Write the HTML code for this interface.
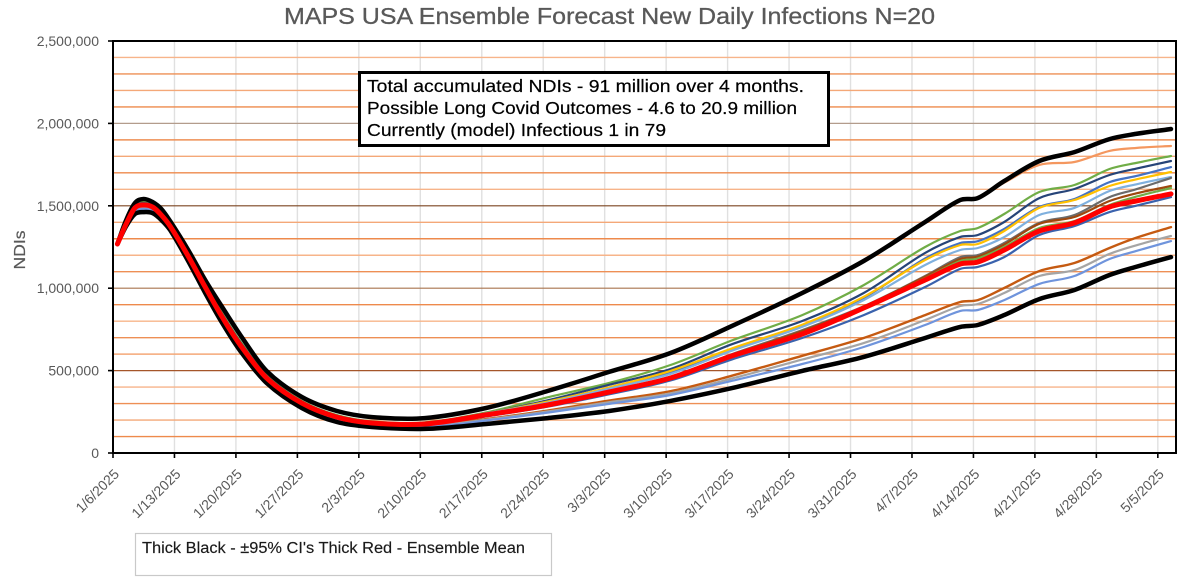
<!DOCTYPE html>
<html lang="en">
<head>
<meta charset="utf-8">
<title>MAPS USA Ensemble Forecast New Daily Infections N=20</title>
<style>
html,body{margin:0;padding:0;background:#fff;width:1200px;height:581px;overflow:hidden}
svg{display:block;font-family:"Liberation Sans",sans-serif}
</style>
</head>
<body>
<svg id="chart" width="1200" height="581" viewBox="0 0 1200 581" xmlns="http://www.w3.org/2000/svg">
  <rect x="0" y="0" width="1200" height="581" fill="#ffffff"/>
  <text x="609.5" y="24" text-anchor="middle" font-size="23" fill="#595959" stroke="#595959" stroke-width="0.3" textLength="651" lengthAdjust="spacingAndGlyphs">MAPS USA Ensemble Forecast New Daily Infections N=20</text>
  <text transform="translate(25,250) rotate(-90)" text-anchor="middle" font-size="16" fill="#595959" stroke="#595959" stroke-width="0.2" textLength="39" lengthAdjust="spacingAndGlyphs">NDIs</text>
  <g id="grid"></g>
  <g id="series"></g>
  <g id="axes"></g>
  <g>
    <rect x="359.5" y="72.5" width="469" height="73" fill="#ffffff" stroke="#000000" stroke-width="3"/>
    <text x="367" y="92" font-size="17.5" fill="#000000" stroke="#000000" stroke-width="0.2" textLength="437" lengthAdjust="spacingAndGlyphs">Total accumulated NDIs - 91 million over 4 months.</text>
    <text x="367" y="114" font-size="17.5" fill="#000000" stroke="#000000" stroke-width="0.2" textLength="430" lengthAdjust="spacingAndGlyphs">Possible Long Covid Outcomes - 4.6 to 20.9 million</text>
    <text x="367" y="136" font-size="17.5" fill="#000000" stroke="#000000" stroke-width="0.2" textLength="299" lengthAdjust="spacingAndGlyphs">Currently (model) Infectious 1 in 79</text>
  </g>
  <g>
    <rect x="135.5" y="533.5" width="416" height="42" fill="#ffffff" stroke="#c9c9c9" stroke-width="1.2"/>
    <text x="142" y="553" font-size="15.5" fill="#1a1a1a" stroke="#1a1a1a" stroke-width="0.15" textLength="383" lengthAdjust="spacingAndGlyphs">Thick Black - ±95% CI's Thick Red - Ensemble Mean</text>
  </g>
</svg>
<script>
// Sampled day offsets from 1/6/2025 and values in thousands of new daily infections
const days = [0,1,2,3,4,5,6,8,10,12,14,17,21,25,29,35,42,49,56,63,70,78,85,92,96,98,101,105,109,113,116,120];
const dateTickLabels = ["1/6/2025","1/13/2025","1/20/2025","1/27/2025","2/3/2025","2/10/2025","2/17/2025","2/24/2025","3/3/2025","3/10/2025","3/17/2025","3/24/2025","3/31/2025","4/7/2025","4/14/2025","4/21/2025","4/28/2025","5/5/2025"];
const yTickValues = [0,500,1000,1500,2000,2500];
const orangeTop = [1268,1412,1512,1536,1518,1476,1404,1232,1046,876,712,494,336,252,215,209,270,372,488,604,768,968,1162,1398,1530,1545,1640,1748,1766,1833,1851,1863];
const greenHigh = [1268,1400,1500,1522,1508,1460,1392,1218,1026,842,678,472,316,230,192,186,246,338,425,534,683,837,1019,1250,1347,1365,1450,1584,1626,1723,1760,1802];
const navy = [1268,1398,1497,1516,1502,1455,1388,1214,1022,836,672,468,312,226,189,183,240,320,414,510,660,801,971,1214,1311,1323,1402,1547,1602,1687,1725,1772];
const blue = [1268,1396,1494,1512,1499,1450,1384,1208,1016,830,665,464,310,224,188,181,240,308,395,490,630,775,941,1180,1274,1285,1360,1493,1541,1644,1680,1735];
const yellow = [1268,1395,1492,1510,1497,1448,1382,1206,1014,828,663,462,309,224,188,180,240,312,398,498,635,778,947,1171,1262,1268,1347,1487,1535,1620,1660,1705];
const lightBlue = [1268,1393,1490,1508,1496,1447,1381,1205,1012,825,660,460,308,222,186,180,240,305,390,480,621,765,928,1141,1232,1244,1310,1444,1487,1590,1630,1675];
const darkGray = [1268,1392,1489,1507,1495,1446,1379,1203,1009,821,657,457,305,220,184,178,234,295,376,462,600,746,890,1074,1189,1201,1274,1396,1444,1553,1600,1669];
const brown = [1268,1391,1488,1506,1494,1445,1378,1202,1008,820,656,456,304,219,183,177,232,293,374,460,596,740,888,1070,1177,1192,1265,1390,1432,1529,1575,1620];
const greenMid = [1268,1391,1488,1506,1494,1445,1378,1202,1008,820,656,456,304,219,183,177,232,292,372,458,592,730,884,1060,1165,1180,1250,1365,1408,1505,1555,1608];
const blueLow = [1268,1386,1480,1498,1486,1436,1370,1192,996,809,645,447,295,211,176,170,222,281,356,440,568,698,837,1007,1117,1129,1189,1323,1377,1462,1500,1553];
const orangeLow = [1268,1382,1472,1488,1476,1428,1364,1186,990,802,638,440,288,204,170,165,206,258,318,375,469,590,698,837,916,928,1001,1104,1153,1244,1305,1371];
const grayLow = [1268,1380,1468,1484,1472,1424,1360,1182,986,798,634,437,285,201,167,161,202,252,308,362,452,567,667,807,892,904,971,1074,1110,1208,1260,1317];
const cornflower = [1268,1378,1464,1480,1468,1420,1356,1178,982,794,630,434,282,198,164,157,197,245,298,352,438,540,643,777,862,868,928,1026,1074,1177,1225,1286];
const ciUpper = [1268,1414,1517,1541,1523,1481,1408,1238,1050,880,716,498,340,255,218,212,273,376,492,607,771,971,1165,1402,1535,1547,1650,1772,1826,1905,1936,1966];
const ciLower = [1268,1377,1450,1462,1456,1414,1353,1171,971,783,619,425,273,188,158,146,176,212,255,316,394,498,583,698,765,777,837,934,989,1080,1129,1189];
const ensembleMean = [1268,1390,1487,1505,1493,1444,1377,1201,1007,819,655,455,303,218,182,176,231,291,370,455,589,722,880,1050,1147,1159,1232,1347,1396,1493,1529,1572];

const plotLeft = 113, plotRight = 1176, plotTop = 41, plotBottom = 453, yMax = 2500, dayWidth = 8.78;
function xScale(day){ return plotLeft + dayWidth * (day + 0.5); }
function tickX(index){ return plotLeft + dayWidth * 7 * index; }
function yScale(v){ return plotBottom - (v / yMax) * (plotBottom - plotTop); }
const NS = 'http://www.w3.org/2000/svg';
function make(tag, attrs, parent){
  const el = document.createElementNS(NS, tag);
  for (const k in attrs) el.setAttribute(k, attrs[k]);
  parent.appendChild(el);
  return el;
}
function formatTick(v){ return (v * 1000).toLocaleString('en-US'); }
function pathFor(values){
  const pts = days.map((d, i) => [xScale(d), yScale(values[i])]);
  const slope = i => {
    const a = pts[Math.max(i - 1, 0)], b = pts[Math.min(i + 1, pts.length - 1)];
    return (b[1] - a[1]) / (b[0] - a[0]);
  };
  let d = 'M' + pts[0][0].toFixed(1) + ' ' + pts[0][1].toFixed(1);
  for (let i = 1; i < pts.length; i++) {
    const dx = pts[i][0] - pts[i - 1][0];
    const c1y = pts[i - 1][1] + slope(i - 1) * dx / 3;
    const c2y = pts[i][1] - slope(i) * dx / 3;
    d += ' C' + (pts[i - 1][0] + dx / 3).toFixed(1) + ' ' + c1y.toFixed(1) + ' ' + (pts[i][0] - dx / 3).toFixed(1) + ' ' + c2y.toFixed(1) + ' ' + pts[i][0].toFixed(1) + ' ' + pts[i][1].toFixed(1);
  }
  return d;
}

const gridG = document.getElementById('grid');
const seriesG = document.getElementById('series');
const axesG = document.getElementById('axes');

// vertical gridlines
dateTickLabels.forEach((label, i) => {
  if (i === 0) return;
  const line = make('line', {x1: tickX(i), x2: tickX(i), y1: plotTop + 1, y2: plotBottom, stroke: '#e0e0e0', 'stroke-width': 1.4}, gridG);
  
  
});
// horizontal gridlines every 100k
const minorColors = ['#f7b48a', '#ee8a4c', '#f4a878', '#ee8f55'];
const majorColors = {500: '#a5562a', 1000: '#a9744e', 1500: '#7c4520', 2000: '#b39c8c'};
for (let v = 100; v < yMax; v += 100) {
  const major = majorColors[v];
  const stroke = major || minorColors[(v / 100) % 4];
  const line = make('line', {x1: plotLeft, x2: plotRight, y1: yScale(v), y2: yScale(v), stroke: stroke, 'stroke-width': major ? 1.2 : 1.4}, gridG);
  
  
}

// series, back to front
const seriesDraw = [
  ['orange-top-line', orangeTop, '#f4975f', 2.2],
  ['green-high-line', greenHigh, '#70ad47', 2.2],
  ['navy-line', navy, '#264478', 2.2],
  ['blue-line', blue, '#4472c4', 2.2],
  ['yellow-line', yellow, '#ffc000', 2.2],
  ['light-blue-line', lightBlue, '#7fb0de', 2.2],
  ['dark-gray-line', darkGray, '#6b6b6b', 2.2],
  ['brown-line', brown, '#9e480e', 2.2],
  ['green-mid-line', greenMid, '#70ad47', 2.2],
  ['blue-low-line', blueLow, '#3a62ad', 2.2],
  ['orange-low-line', orangeLow, '#c55a11', 2.4],
  ['gray-low-line', grayLow, '#a5a5a5', 2.2],
  ['cornflower-line', cornflower, '#6f94dc', 2.2],
  ['ci-upper-line', ciUpper, '#000000', 4.5],
  ['ci-lower-line', ciLower, '#000000', 4.5],
  ['ensemble-mean-line', ensembleMean, '#ff0000', 5]
];
seriesDraw.forEach(s => {
  const p = make('path', {d: pathFor(s[1]), fill: 'none', stroke: s[2], 'stroke-width': s[3], 'stroke-linejoin': 'round', 'stroke-linecap': 'round'}, seriesG);
  
  
});

// axes frame
const frame = make('path', {d: 'M' + plotLeft + ' ' + plotTop + ' H' + plotRight + ' V' + plotBottom + ' H' + plotLeft + ' Z', fill: 'none', stroke: '#000000', 'stroke-width': 2}, axesG);



// y ticks
yTickValues.forEach(v => {
  const y = yScale(v);
  const tick = make('line', {x1: plotLeft - 5, x2: plotLeft, y1: y, y2: y, stroke: '#000000', 'stroke-width': 1.6}, axesG);
  
  
  const t = make('text', {x: 99, y: y + 5, 'text-anchor': 'end', 'font-size': 14, fill: '#595959'}, axesG);
  t.textContent = formatTick(v);
  
  
});

// x ticks
dateTickLabels.forEach((label, i) => {
  const x = tickX(i);
  const tick = make('line', {x1: x, x2: x, y1: plotBottom, y2: plotBottom + 5, stroke: '#000000', 'stroke-width': 1.6}, axesG);
  
  
  const t = make('text', {'text-anchor': 'end', 'font-size': 14, fill: '#595959', transform: 'translate(' + (x + 7) + ',475) rotate(-45)'}, axesG);
  t.textContent = label;
  
  
});
</script>
</body>
</html>
